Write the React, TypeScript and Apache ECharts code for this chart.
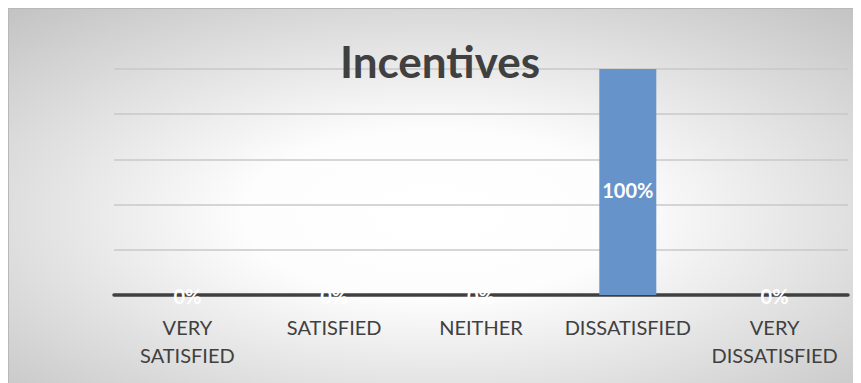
import React, { useEffect, useRef } from "react";
import * as echarts from "echarts";

const titleText = "Incentives";
const categories = ["VERY SATISFIED", "SATISFIED", "NEITHER", "DISSATISFIED", "VERY DISSATISFIED"];
const values = [0, 0, 0, 100, 0];

export default function App() {
  const ref = useRef<HTMLDivElement>(null);
  useEffect(() => {
    if (!ref.current) return;
    const chart = echarts.init(ref.current, undefined, { renderer: "svg" });
    chart.setOption({
      animation: false,
      backgroundColor: {
        type: "radial",
        x: 0.5,
        y: 0.55,
        r: 0.75,
        colorStops: [
          { offset: 0, color: "#ffffff" },
          { offset: 0.3, color: "#fdfdfd" },
          { offset: 1, color: "#c2c2c2" },
        ],
      },
      title: {
        text: titleText,
        left: 426,
        textAlign: "center",
        top: 25,
        textStyle: { fontFamily: "Lato", fontWeight: "bold", fontSize: 44, color: "#404040" },
      },
      grid: { left: 105, right: 13, top: 60, bottom: 88 },
      xAxis: {
        type: "category",
        data: categories,
        axisLine: { lineStyle: { color: "#404040", width: 3.5 } },
        axisTick: { show: false },
        axisLabel: {
          interval: 0,
          color: "#404040",
          fontFamily: "Lato",
          fontSize: 20,
          lineHeight: 28,
          margin: 18,
          formatter: (v: string) => v.replace("VERY ", "VERY\n"),
        },
      },
      yAxis: {
        type: "value",
        min: 0,
        max: 100,
        interval: 20,
        axisLabel: { show: false },
        axisLine: { show: false },
        axisTick: { show: false },
        splitLine: { lineStyle: { color: "#c8c8c8", width: 1.5 } },
      },
      series: [
        {
          type: "bar",
          data: values.map((v) => ({
            value: v,
            label: { offset: v > 0 ? [0, 8] : [0, 1] },
          })),
          barWidth: 57,
          itemStyle: { color: "#6693c9" },
          label: {
            show: true,
            position: "inside",
            formatter: (p: any) => p.value + "%",
            color: "#ffffff",
            fontFamily: "Lato",
            fontWeight: "bold",
            fontSize: 20,
          },
        },
      ],
    });
    return () => chart.dispose();
  }, []);
  return (
    <div
      ref={ref}
      style={{ width: 853, height: 375, borderTop: "1px solid #b8b8b8", borderLeft: "1px solid #b8b8b8", boxSizing: "border-box" }}
    />
  );
}
